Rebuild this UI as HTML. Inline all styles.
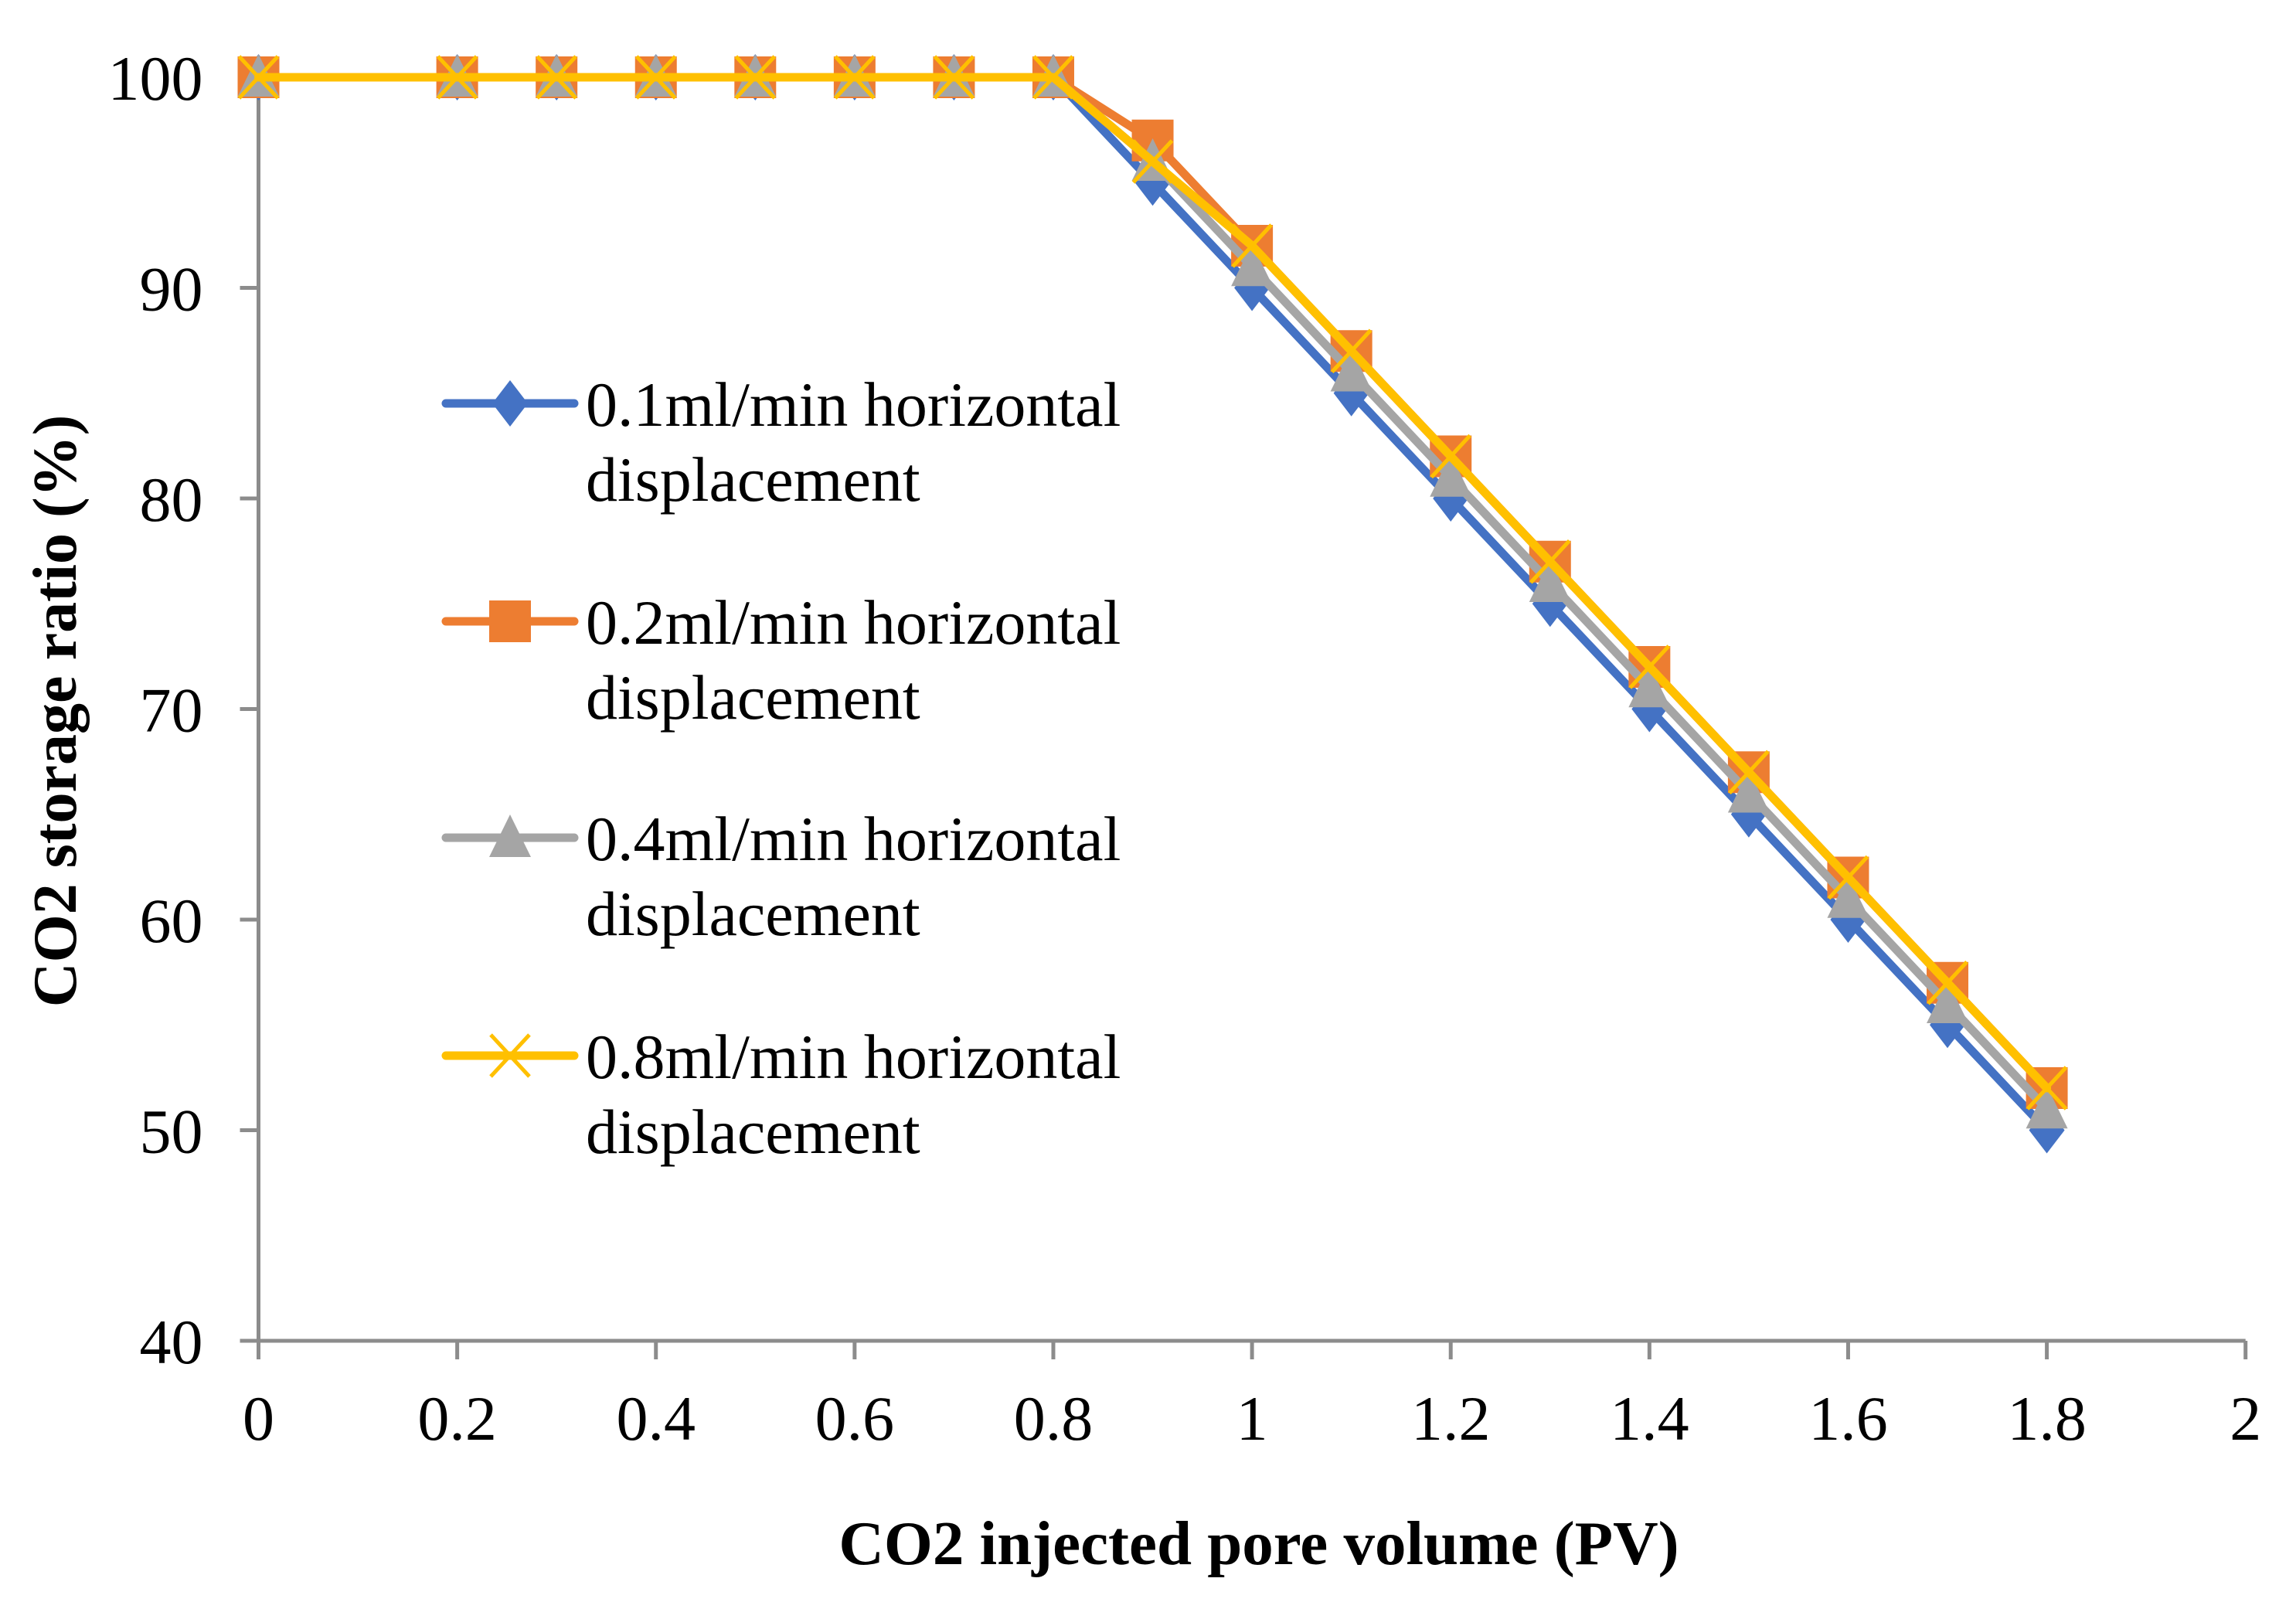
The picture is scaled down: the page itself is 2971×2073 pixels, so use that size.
<!DOCTYPE html>
<html><head><meta charset="utf-8"><style>
html,body{margin:0;padding:0;background:#fff;}
svg{display:block;font-family:"Liberation Serif",serif;}
</style></head><body>
<svg id="chart" width="2971" height="2073" viewBox="0 0 2971 2073" xmlns="http://www.w3.org/2000/svg">
<g id="axes"></g>
<g id="series"></g>
<g id="legend"></g>
<text transform="translate(98,920) rotate(-90)" text-anchor="middle" font-weight="bold" font-size="80">CO2 storage ratio (%)</text>
<text x="1629" y="2024" text-anchor="middle" font-weight="bold" font-size="81">CO2 injected pore volume (PV)</text>
</svg>
<script>
const xValues = [0,0.2,0.3,0.4,0.5,0.6,0.7,0.8,0.9,1.0,1.1,1.2,1.3,1.4,1.5,1.6,1.7,1.8];
const series01 = [100,100,100,100,100,100,100,100,95,90,85,80,75,70,65,60,55,50];
const series02 = [100,100,100,100,100,100,100,100,97,92,87,82,77,72,67,62,57,52];
const series04 = [100,100,100,100,100,100,100,100,96,91,86,81,76,71,66,61,56,51];
const series08 = [100,100,100,100,100,100,100,100,96,92,87,82,77,72,67,62,57,52];
const xTicks = [0,0.2,0.4,0.6,0.8,1,1.2,1.4,1.6,1.8,2];
const xTickLabels = ["0","0.2","0.4","0.6","0.8","1","1.2","1.4","1.6","1.8","2"];
const yTicks = [40,50,60,70,80,90,100];
const seriesNames = ["0.1ml/min horizontal","0.2ml/min horizontal","0.4ml/min horizontal","0.8ml/min horizontal"];

const NS="http://www.w3.org/2000/svg";
const X0=334.5, XS=1285.6, Y40=1735, YS=27.25;
const xs=v=>X0+v*XS, ys=v=>Y40-(v-40)*YS;
function mk(tag,attrs,parent){const e=document.createElementNS(NS,tag);for(const k in attrs)e.setAttribute(k,attrs[k]);parent.appendChild(e);return e;}
const axes=document.getElementById('axes'), sg=document.getElementById('series'), lg=document.getElementById('legend');
const AX="#8c8c8c";
let a=mk('line',{x1:xs(0),y1:ys(40),x2:xs(2),y2:ys(40),stroke:AX,'stroke-width':5},axes);

a=mk('line',{x1:xs(0),y1:ys(40),x2:xs(0),y2:ys(100),stroke:AX,'stroke-width':5},axes);

xTicks.forEach((t,i)=>{
  const l=mk('line',{x1:xs(t),y1:ys(40),x2:xs(t),y2:ys(40)+24,stroke:AX,'stroke-width':5},axes);
  
  const tx=mk('text',{x:xs(t),y:ys(40)+128,'text-anchor':'middle','font-size':82},axes);
  tx.textContent=xTickLabels[i];
  
});
yTicks.forEach(t=>{
  const l=mk('line',{x1:xs(0)-24,y1:ys(t),x2:xs(0),y2:ys(t),stroke:AX,'stroke-width':5},axes);
  
  const tx=mk('text',{x:xs(0)-72,y:ys(t)+29,'text-anchor':'end','font-size':82},axes);
  tx.textContent=String(t);
  
});
function marker(type,cx,cy,color,parent){
  let m;
  if(type==='diamond') m=mk('polygon',{points:`${cx},${cy-30} ${cx+23},${cy} ${cx},${cy+30} ${cx-23},${cy}`,fill:color},parent);
  else if(type==='square') m=mk('rect',{x:cx-27,y:cy-27,width:54,height:54,fill:color},parent);
  else if(type==='triangle') m=mk('polygon',{points:`${cx},${cy-30} ${cx+27},${cy+25} ${cx-27},${cy+25}`,fill:color},parent);
  else { m=mk('path',{d:`M${cx-25},${cy-27}L${cx+25},${cy+27}M${cx+25},${cy-27}L${cx-25},${cy+27}`,stroke:color,'stroke-width':5,fill:'none'},parent);}
  return m;
}
const defs=[[series01,'#4472c4','diamond','series-0-1'],[series02,'#ed7d31','square','series-0-2'],[series04,'#a5a5a5','triangle','series-0-4'],[series08,'#ffc000','cross','series-0-8']];
defs.forEach(([vals,c,t,name])=>{
  const g=mk('g',{},sg);
  
  const pl=mk('polyline',{points:vals.map((v,i)=>xs(xValues[i])+','+ys(v)).join(' '),fill:'none',stroke:c,'stroke-width':11,'stroke-linejoin':'round','stroke-linecap':'round'},g);
  
  vals.forEach((v,i)=>{const m=marker(t,xs(xValues[i]),ys(v),c,g);
    });
});
const legY=[522,804,1084,1366];
defs.forEach(([vals,c,t,name],i)=>{
  const g=mk('g',{},lg);
  
  mk('line',{x1:577,y1:legY[i],x2:743,y2:legY[i],stroke:c,'stroke-width':11,'stroke-linecap':'round'},g);
  marker(t,660,legY[i],c,g);
  const t1=mk('text',{x:758,y:legY[i]+29,'font-size':82},g);t1.textContent=seriesNames[i];
  const t2=mk('text',{x:758,y:legY[i]+126,'font-size':82},g);t2.textContent='displacement';
});
</script>
</body></html>
